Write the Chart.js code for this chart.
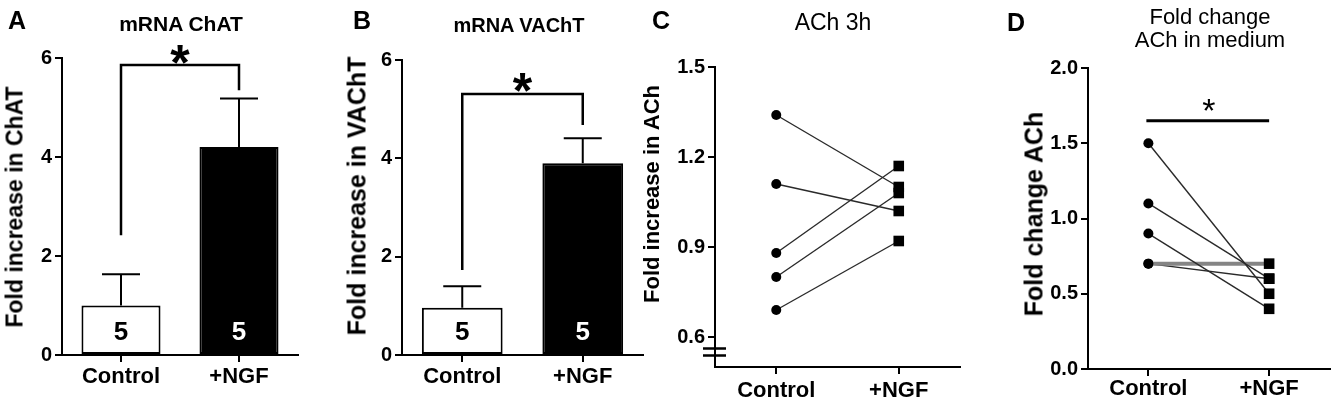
<!DOCTYPE html>
<html>
<head>
<meta charset="utf-8">
<script src="https://cdn.jsdelivr.net/npm/chart.js@4.4.1/dist/chart.umd.min.js"></script>
<style>
  html, body { margin: 0; padding: 0; background: #fff; }
  #page { position: relative; width: 1337px; height: 398px; overflow: hidden;
          font-family: "Liberation Sans", Arial, sans-serif; color: #000; }
  .box { position: absolute; top: 0; height: 398px; }
  .txt { position: absolute; white-space: nowrap; line-height: 1; }
  .letter { font-weight: bold; font-size: 25px; }
  .title { transform: translateX(-50%); text-align: center; }
  .ylab { font-weight: bold; transform: translate(-50%, -50%) rotate(-90deg); }
</style>
</head>
<body>
<div id="page">
  <div class="box" style="left:0;width:330px"><canvas id="chartA"></canvas></div>
  <div class="box" style="left:330px;width:330px"><canvas id="chartB"></canvas></div>
  <div class="box" style="left:630px;width:370px"><canvas id="chartC"></canvas></div>
  <div class="box" style="left:1000px;width:337px"><canvas id="chartD"></canvas></div>

  <div class="txt letter" style="left:8px;top:8px">A</div>
  <div class="txt letter" style="left:353px;top:8px">B</div>
  <div class="txt letter" style="left:652px;top:8px">C</div>
  <div class="txt letter" style="left:1007px;top:10px">D</div>

  <div class="txt title" style="left:181px;top:13px;font-size:21px;font-weight:bold">mRNA ChAT</div>
  <div class="txt title" style="left:519px;top:15px;font-size:20px;font-weight:bold">mRNA VAChT</div>
  <div class="txt title" style="left:833px;top:11px;font-size:23px">ACh 3h</div>
  <div class="txt title" style="left:1210px;top:5px;font-size:22px;line-height:23px">Fold change<br>ACh in medium</div>

  <div class="txt ylab" style="left:15px;top:207px;font-size:23px">Fold increase in ChAT</div>
  <div class="txt ylab" style="left:357px;top:196px;font-size:25px">Fold increase in VAChT</div>
  <div class="txt ylab" style="left:652px;top:194px;font-size:22px">Fold increase in ACh</div>
  <div class="txt ylab" style="left:1034px;top:214px;font-size:25px">Fold change ACh</div>
</div>

<script>
const groups = ["Control", "+NGF"]
const nPerGroup = [5, 5]

// A: mRNA ChAT, mean and SEM
const chatMean = [1.0, 4.2]
const chatSem = [0.63, 0.98]
const chatTicks = [0, 2, 4, 6]

// B: mRNA VAChT
const vachtMean = [0.96, 3.9]
const vachtSem = [0.44, 0.51]
const vachtTicks = [0, 2, 4, 6]

// C: ACh 3h, paired values
const ach3hControl = [1.34, 1.11, 0.88, 0.80, 0.69]
const ach3hNgf = [1.10, 1.02, 1.17, 1.08, 0.92]
const ach3hTicks = [0.6, 0.9, 1.2, 1.5]

// D: ACh in medium, paired values
const mediumControl = [1.5, 1.1, 0.9, 0.7, 0.7]
const mediumNgf = [0.5, 0.6, 0.4, 0.7, 0.6]
const mediumTicks = [0, 0.5, 1.0, 1.5, 2.0]

const FONT = '"Liberation Sans", Arial, sans-serif'
Chart.defaults.font.family = FONT
Chart.defaults.color = "#000"

function scales(o) {
  return {
    x: {
      offset: true,
      afterFit: (s) => { s.height = o.xHeight },
      grid: { offset: false, drawOnChartArea: false, color: "#000", lineWidth: 2, tickLength: 7 },
      border: { color: "#000", width: 2 },
      ticks: { color: "#000", font: { size: 22, weight: "bold" }, padding: o.xPad, maxRotation: 0, autoSkip: false },
    },
    y: {
      min: o.min,
      max: o.max,
      afterBuildTicks: (s) => { s.ticks = o.ticks.map((v) => ({ value: v })) },
      afterFit: (s) => { s.width = o.yWidth },
      grid: { drawOnChartArea: false, color: "#000", lineWidth: 2, tickLength: 7 },
      border: { color: "#000", width: 2 },
      ticks: { color: "#000", font: { size: 20, weight: "bold" }, padding: 3, callback: o.fmt },
    },
  }
}

function drawStar(ctx, x, yPix, size, weight) {
  ctx.font = weight + " " + size + "px " + FONT
  ctx.textAlign = "center"
  ctx.textBaseline = "alphabetic"
  ctx.fillStyle = "#000"
  ctx.fillText("*", x, yPix + size * 0.56)
}

// error bars, n labels, bracket and star for the bar panels
function barExtras(sem, bracket, starAt) {
  return {
    id: "barExtras",
    afterDatasetsDraw(chart) {
      const { ctx } = chart
      const y = chart.scales.y
      const meta = chart.getDatasetMeta(0)
      const means = chart.data.datasets[0].data
      ctx.save()
      ctx.strokeStyle = "#000"
      ctx.lineWidth = 2
      meta.data.forEach((bar, i) => {
        const top = y.getPixelForValue(means[i] + sem[i])
        ctx.beginPath()
        ctx.moveTo(bar.x, bar.y)
        ctx.lineTo(bar.x, top)
        ctx.moveTo(bar.x - 19, top)
        ctx.lineTo(bar.x + 19, top)
        ctx.stroke()
        ctx.fillStyle = i === 0 ? "#000" : "#fff"
        ctx.font = "bold 26px " + FONT
        ctx.textAlign = "center"
        ctx.textBaseline = "middle"
        ctx.fillText(String(nPerGroup[i]), bar.x, y.getPixelForValue(0) - 22)
      })
      const x0 = meta.data[0].x
      const x1 = meta.data[1].x
      ctx.lineWidth = 2.5
      ctx.beginPath()
      ctx.moveTo(x0, y.getPixelForValue(bracket[0]))
      ctx.lineTo(x0, y.getPixelForValue(bracket[1]))
      ctx.lineTo(x1, y.getPixelForValue(bracket[1]))
      ctx.lineTo(x1, y.getPixelForValue(bracket[2]))
      ctx.stroke()
      drawStar(ctx, (x0 + x1) / 2, y.getPixelForValue(starAt), 50, "bold")
      ctx.restore()
    },
  }
}

function barChart(id, mean, sem, ticks, layout, bracket, starAt) {
  return new Chart(document.getElementById(id), {
    type: "bar",
    data: {
      labels: groups,
      datasets: [{
        data: mean,
        backgroundColor: ["#fff", "#000"],
        borderColor: "#000",
        borderWidth: 2,
        borderSkipped: false,
        barPercentage: 0.67,
        categoryPercentage: 1,
      }],
    },
    options: {
      responsive: true,
      maintainAspectRatio: false,
      animation: false,
      layout: { padding: { top: layout.top, right: layout.right, left: 0, bottom: 0 } },
      plugins: { legend: { display: false }, tooltip: { enabled: false } },
      scales: scales({ min: 0, max: 6, ticks, yWidth: layout.yWidth, xHeight: layout.xHeight, xPad: 2, fmt: (v) => String(v) }),
    },
    plugins: [barExtras(sem, bracket, starAt)],
  })
}

barChart("chartA", chatMean, chatSem, chatTicks, { top: 58, right: 32, yWidth: 62, xHeight: 43 }, [2.42, 5.86, 5.35], 6.12)
barChart("chartB", vachtMean, vachtSem, vachtTicks, { top: 60, right: 17, yWidth: 72, xHeight: 43 }, [1.73, 5.31, 4.68], 5.59)

function pairedSets(ctrl, ngf, greyIndex) {
  return ctrl.map((c, i) => ({
    data: [c, ngf[i]],
    borderColor: i === greyIndex ? "#858585" : "#2a2a2a",
    borderWidth: i === greyIndex ? 4 : 1.4,
    pointStyle: ["circle", "rect"],
    pointRadius: [5, 7.5],
    pointBackgroundColor: "#000",
    pointBorderColor: "#000",
    pointBorderWidth: 0,
    clip: false,
  }))
}

function lineChart(id, ctrl, ngf, greyIndex, o, extra) {
  return new Chart(document.getElementById(id), {
    type: "line",
    data: { labels: groups, datasets: pairedSets(ctrl, ngf, greyIndex) },
    options: {
      responsive: true,
      maintainAspectRatio: false,
      animation: false,
      layout: { padding: { top: o.top, right: o.right, left: 0, bottom: 0 } },
      plugins: { legend: { display: false }, tooltip: { enabled: false } },
      scales: scales(o),
    },
    plugins: [extra],
  })
}

// axis break on panel C
const axisBreak = {
  id: "axisBreak",
  afterDraw(chart) {
    const { ctx, chartArea } = chart
    const yp = chart.scales.y.getPixelForValue(0.55)
    ctx.save()
    ctx.strokeStyle = "#000"
    ctx.lineWidth = 2.5
    ctx.beginPath()
    ctx.moveTo(chartArea.left - 12, yp - 3.5)
    ctx.lineTo(chartArea.left + 11, yp - 3.5)
    ctx.moveTo(chartArea.left - 12, yp + 3.5)
    ctx.lineTo(chartArea.left + 11, yp + 3.5)
    ctx.stroke()
    ctx.restore()
  },
}

// significance line on panel D
const sigLine = {
  id: "sigLine",
  afterDraw(chart) {
    const { ctx } = chart
    const x = chart.scales.x
    const y = chart.scales.y
    const x0 = x.getPixelForValue(0)
    const x1 = x.getPixelForValue(1)
    const yp = y.getPixelForValue(1.65)
    ctx.save()
    ctx.strokeStyle = "#000"
    ctx.lineWidth = 3
    ctx.beginPath()
    ctx.moveTo(x0 - 2, yp)
    ctx.lineTo(x1, yp)
    ctx.stroke()
    drawStar(ctx, (x0 + x1) / 2, y.getPixelForValue(1.77), 34, "normal")
    ctx.restore()
  },
}

lineChart("chartC", ach3hControl, ach3hNgf, -1,
  { min: 0.5, max: 1.5, ticks: ach3hTicks, top: 67, right: 40, yWidth: 85, xHeight: 31, xPad: 4, fmt: (v) => v.toFixed(1) },
  axisBreak)

lineChart("chartD", mediumControl, mediumNgf, 3,
  { min: 0, max: 2, ticks: mediumTicks, top: 68, right: 5, yWidth: 88, xHeight: 29, xPad: 0, fmt: (v) => v.toFixed(1) },
  sigLine)
</script>
</body>
</html>
